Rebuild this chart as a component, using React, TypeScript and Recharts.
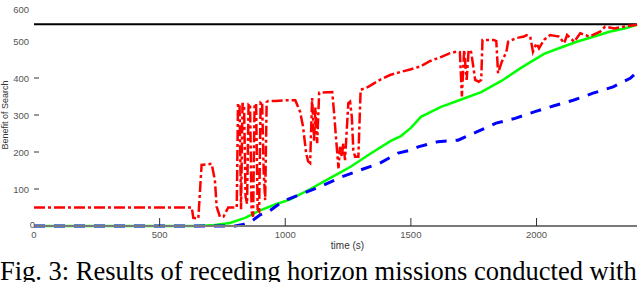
import { LineChart, Line, XAxis, YAxis, ReferenceLine } from 'recharts';

// red dash-dot series
const redTime = [0, 628, 634, 654, 667, 707, 720, 727, 740, 754, 773, 807, 812, 818, 824, 830, 836, 842, 848, 854, 860, 866, 872, 878, 884, 890, 896, 902, 908, 914, 920, 926, 932, 960, 1000, 1040, 1059, 1071, 1083, 1091, 1099, 1107, 1115, 1120, 1127, 1135, 1187, 1195, 1203, 1212, 1218, 1225, 1231, 1238, 1251, 1258, 1265, 1271, 1278, 1291, 1300, 1330, 1377, 1417, 1457, 1497, 1537, 1577, 1617, 1656, 1680, 1695, 1703, 1712, 1722, 1730, 1740, 1756, 1770, 1780, 1785, 1830, 1840, 1847, 1862, 1880, 1887, 1920, 1950, 1960, 1975, 1986, 2000, 2010, 2030, 2054, 2090, 2110, 2122, 2150, 2174, 2210, 2253, 2273, 2310, 2350, 2393, 2400];
const redValue = [50, 50, 22, 20, 165, 168, 124, 52, 25, 25, 50, 50, 330, 330, 45, 330, 330, 80, 60, 330, 330, 40, 25, 330, 330, 45, 40, 335, 335, 150, 70, 335, 338, 338, 340, 340, 309, 268, 197, 175, 170, 346, 230, 320, 224, 360, 362, 300, 230, 156, 214, 187, 224, 178, 332, 336, 295, 205, 187, 187, 368, 376, 395, 408, 416, 423, 431, 446, 456, 467, 471, 470, 350, 476, 395, 476, 470, 395, 390, 395, 503, 503, 500, 413, 444, 470, 498, 508, 512, 516, 512, 471, 494, 480, 503, 516, 512, 494, 516, 498, 521, 512, 525, 539, 534, 539, 543, 545];

// green solid series
const greenTime = [0, 650, 720, 780, 840, 900, 960, 1020, 1100, 1180, 1260, 1340, 1420, 1460, 1500, 1540, 1620, 1700, 1780, 1860, 1940, 2030, 2100, 2160, 2230, 2290, 2350, 2400];
const greenValue = [0, 0, 3, 8, 22, 42, 58, 72, 100, 130, 160, 196, 230, 243, 265, 295, 322, 342, 362, 392, 428, 465, 483, 498, 512, 525, 534, 544];

// blue dashed series
const blueTime = [0, 800, 832, 868, 900, 932, 980, 1010, 1071, 1151, 1226, 1298, 1377, 1449, 1500, 1529, 1608, 1688, 1764, 1839, 1915, 1994, 2070, 2146, 2225, 2305, 2373, 2400];
const blueValue = [0, 0, 4, 14, 30, 38, 62, 72, 88, 110, 133, 151, 170, 197, 205, 214, 228, 232, 255, 278, 291, 309, 325, 340, 359, 376, 399, 416];

const xTicks = [0, 500, 1000, 1500, 2000];
const yTicks = [0, 100, 200, 300, 400, 500, 600];
const upperBound = 545;

const toPoints = (ts: number[], vs: number[]) => ts.map((t, i) => ({ t, v: vs[i] }));
const redData = toPoints(redTime, redValue);
const greenData = toPoints(greenTime, greenValue);
const blueData = toPoints(blueTime, blueValue);

const tickFont = { fontFamily: 'Liberation Sans, Arial, sans-serif', fontSize: 9.5, fill: '#555' };

function YTick({ x, y, payload }: any) {
  const v = payload.value;
  return (
    <g>
      <text x={v === 0 ? x + 1 : x - 5} y={y} dy={v === 0 ? 2 : 3.5} textAnchor="end" {...tickFont}>{v}</text>
      {v > 0 && v < 500 && <line x1={x} x2={x + 5} y1={y} y2={y} stroke="#333" strokeWidth={1} />}
    </g>
  );
}

function XTick({ x, y, payload }: any) {
  const v = payload.value;
  return (
    <g>
      <text x={x} y={y} dy={12} textAnchor="middle" {...tickFont}>{v}</text>
      {v > 0 && <line x1={x} x2={x} y1={y - 8} y2={y} stroke="#333" strokeWidth={1} />}
    </g>
  );
}

export default function App() {
  return (
    <div style={{ position: 'absolute', left: 0, top: 0, width: 640, height: 282, overflow: 'hidden', background: '#fff' }}>
      <LineChart width={640} height={282} margin={{ top: 4, right: 3, bottom: 0, left: 0 }}>
        <XAxis
          dataKey="t"
          type="number"
          domain={[0, 2400]}
          ticks={xTicks}
          tick={<XTick />}
          tickSize={0}
          tickMargin={0}
          height={56}
          axisLine={{ stroke: '#7a7a7a', strokeWidth: 2 }}
          allowDuplicatedCategory={false}
          label={{ value: 'time (s)', position: 'insideTop', offset: 16, dx: 12, style: { fontFamily: 'Liberation Sans, Arial, sans-serif', fontSize: 10, fill: '#333' } }}
        />
        <YAxis
          type="number"
          domain={[0, 600]}
          ticks={yTicks}
          tick={<YTick />}
          tickSize={0}
          tickMargin={0}
          width={34}
          axisLine={false}
          tickLine={false}
          label={{ value: 'Benefit of Search', angle: -90, position: 'center', dx: -12, style: { fontFamily: 'Liberation Sans, Arial, sans-serif', fontSize: 9, fill: '#333' } }}
        />
        <ReferenceLine y={upperBound} stroke="#000" strokeWidth={2} />
        <Line data={greenData} dataKey="v" type="linear" stroke="#00ff00" strokeWidth={2.5} dot={false} isAnimationActive={false} />
        <Line data={blueData} dataKey="v" type="linear" stroke="#0000ff" strokeWidth={3} strokeDasharray="11 9" dot={false} isAnimationActive={false} />
        <Line data={redData} dataKey="v" type="linear" stroke="#ff0000" strokeWidth={2.5} strokeDasharray="11 3 3 3" dot={false} isAnimationActive={false} />
      </LineChart>
      <div style={{ position: 'absolute', left: 0, top: 258, fontFamily: 'Liberation Serif, Times New Roman, serif', fontSize: 26.5, lineHeight: '26px', whiteSpace: 'nowrap', color: '#000' }}>
        Fig. 3: Results of receding horizon missions conducted with
      </div>
    </div>
  );
}
